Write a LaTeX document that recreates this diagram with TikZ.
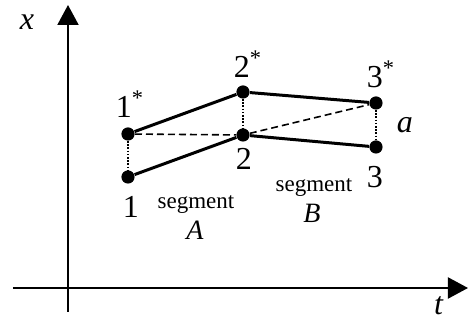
\documentclass[tikz,border=0pt]{standalone}
\usepackage{fontspec}
\setmainfont{Liberation Serif}
\usetikzlibrary{arrows.meta}

\begin{document}
\begin{tikzpicture}[x=0.5pt,y=-0.5pt,
  axis/.style={line width=1pt,-{Triangle[length=10pt,width=10.5pt]}},
  dot/.style={circle,fill,inner sep=0pt,minimum size=6.6pt},
  seg/.style={line width=1.5pt},
  chord/.style={line width=0.8pt,dash pattern=on 3.5pt off 2pt},
  drop/.style={line width=0.8pt,dash pattern=on 0.8pt off 0.8pt},
  lbl/.style={anchor=base,inner sep=0pt,font=\fontsize{16}{18}\selectfont},
  sml/.style={anchor=base,inner sep=0pt,font=\fontsize{11.5}{13}\selectfont},
  nam/.style={anchor=base,inner sep=0pt,font=\fontsize{14}{16}\selectfont\itshape}]
\useasboundingbox (0,0) rectangle (468,331);
% axes
\coordinate (ybot) at (68,312); \coordinate (ytop) at (68,5);
\coordinate (xleft) at (13,288); \coordinate (xright) at (468,288);
\draw[axis] (ybot) -- (ytop);
\draw[axis] (xleft) -- (xright);
\node[lbl] (xlab) at (27,30) {\textit{x}};
\node[lbl] (tlab) at (439,315) {\textit{t}};
% points and their labels
\foreach \n/\px/\py in {p1s/128/134, p1/128/177, p2s/243/92, p2/243/135, p3s/376/103, p3/376/147}
  \node[dot] (\n) at (\px,\py) {};
\foreach \n/\txt/\px/\py in {l1s/1/124/118, l2s/2/242/78, l3s/3/375/88}
  \node[lbl] (\n) at (\px,\py) {\txt\rlap{\textsuperscript{*}}};
\foreach \n/\txt/\px/\py in {l1/1/131/218, l2/2/244/170, l3/3/375/188}
  \node[lbl] (\n) at (\px,\py) {\txt};
\node[lbl] (alab) at (405,133) {\textit{a}};
% segments
\draw[seg] (p1s) -- (p2s) -- (p3s);
\draw[seg] (p1) -- (p2) -- (p3);
\draw[chord] (p1s) -- (p2) -- (p3s);
\foreach \a/\b in {p1s/p1, p2s/p2, p3s/p3} { \draw[drop] (\a) -- (\b); }
\node[sml] (segA) at (196,209) {segment};
\node[nam] (nameA) at (195,240) {A};
\node[sml] (segB) at (314,192) {segment};
\node[nam] (nameB) at (312,223) {B};
\end{tikzpicture}
\end{document}
